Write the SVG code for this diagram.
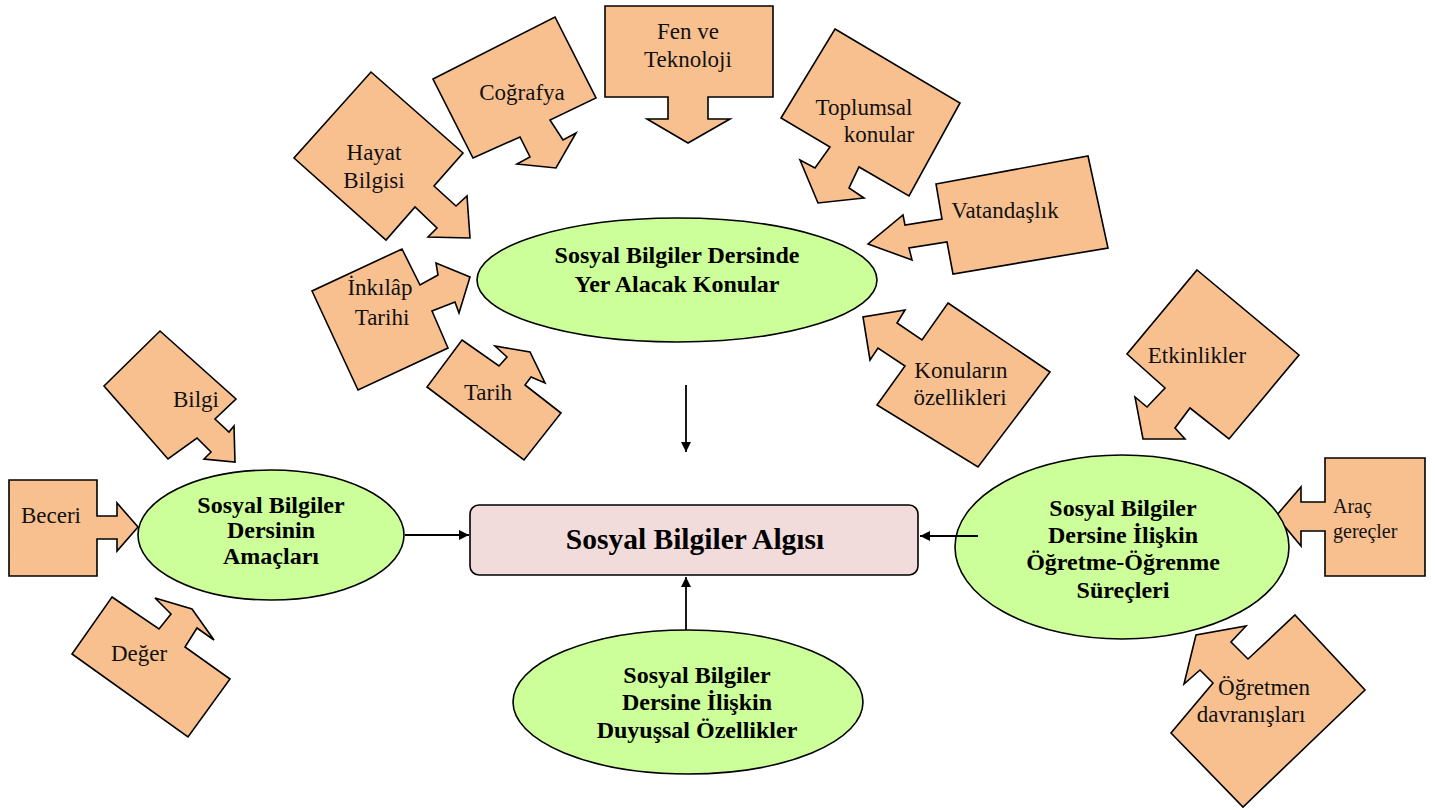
<svg xmlns="http://www.w3.org/2000/svg" width="1435" height="810" viewBox="0 0 1435 810">
<style>
.co{fill:#f9c08f;stroke:#000;stroke-width:1.6;stroke-linejoin:miter}
.el{fill:#ccff99;stroke:#000;stroke-width:1.6}
.t{font-family:"Liberation Serif","Times New Roman",serif;font-size:23px;fill:#111;text-anchor:middle}
.b{font-family:"Liberation Serif","Times New Roman",serif;font-size:24px;font-weight:bold;fill:#000;text-anchor:middle}
.cn{stroke:#000;stroke-width:1.8;fill:none}
</style>
<defs>
<marker id="ah" viewBox="0 0 10 10" refX="10" refY="5" markerWidth="11" markerHeight="10" markerUnits="userSpaceOnUse" orient="auto"><path d="M0,0 L10,5 L0,10 Z" fill="#000"/></marker>
</defs>
<rect width="1435" height="810" fill="#fff"/>

<g id="fen">
<polygon class="co" points="605,6 773,6 773,97 708,97 708,119 730,119 688,143 647,119 668,119 668,97 605,97"/>
<text class="t" x="688" y="39">Fen ve</text>
<text class="t" x="688" y="67">Teknoloji</text>
</g>
<g id="hayat">
<polygon class="co" points="371,72 463,153 434,186 456,206 467,196 470,238 428,237 437,228 415,207 386,240 294,158"/>
<text class="t" x="374" y="160">Hayat</text>
<text class="t" x="374" y="188">Bilgisi</text>
</g>
<g id="cografya">
<polygon class="co" points="433,79 555,17 596,98 550,120 563,140 576,133 556,168 517,164 530,157 520,137 473,158"/>
<text class="t" x="522" y="100">Coğrafya</text>
</g>
<g id="toplumsal">
<polygon class="co" points="835,29 960,103 909,196 859,167 849,188 864,198 818,203 800,160 815,168 830,147 781,118"/>
<text class="t" x="864" y="115">Toplumsal</text>
<text class="t" x="879" y="142">konular</text>
</g>
<g id="vatandaslik">
<polygon class="co" points="936,184 1088,156 1108,248 953,274 947,242 909,248 912,260 868,244 903,215 905,225 942,219"/>
<text class="t" x="1005" y="218">Vatandaşlık</text>
</g>
<g id="konularin">
<polygon class="co" points="948,303 1050,372 978,467 877,405 905,366 878,348 870,360 863,317 905,310 897,323 922,340"/>
<text class="t" x="961" y="378">Konuların</text>
<text class="t" x="960" y="405">özellikleri</text>
</g>
<g id="inkilap">
<polygon class="co" points="402,249 420,285 438,275 436,263 470,277 459,313 455,302 432,311 448,348 358,390 312,291"/>
<text class="t" x="380" y="295">İnkılâp</text>
<text class="t" x="382" y="325">Tarihi</text>
</g>
<g id="tarih">
<polygon class="co" points="462,340 499,366 507,357 495,346 530,352 545,383 531,377 525,385 561,413 524,460 427,387"/>
<text class="t" x="488" y="400">Tarih</text>
</g>
<g id="bilgi">
<polygon class="co" points="160,331 236,399 215,419 229,432 234,426 235,462 204,459 211,452 197,438 168,459 104,386"/>
<text class="t" x="196" y="407">Bilgi</text>
</g>
<g id="beceri">
<polygon class="co" points="9,480 97,480 97,516 117,516 117,503 138,527 117,551 117,539 97,539 97,576 9,576"/>
<text class="t" x="51" y="523">Beceri</text>
</g>
<g id="deger">
<polygon class="co" points="112,597 159,629 171,614 155,598 192,609 214,640 197,628 185,647 230,679 188,737 72,654"/>
<text class="t" x="139" y="661">Değer</text>
</g>
<g id="etkinlikler">
<polygon class="co" points="1197,270 1299,355 1229,439 1190,408 1175,428 1185,439 1143,439 1135,397 1147,407 1165,388 1127,354"/>
<text class="t" x="1197" y="363">Etkinlikler</text>
</g>
<g id="arac">
<polygon class="co" points="1325,458 1425,458 1425,576 1325,576 1325,531 1301,531 1301,546 1276,516 1301,487 1301,502 1325,502"/>
<text class="t" x="1333" y="513" style="text-anchor:start;font-size:20px">Araç</text>
<text class="t" x="1333" y="538" style="text-anchor:start;font-size:20px">gereçler</text>
</g>
<g id="ogretmen">
<polygon class="co" points="1295,615 1365,690 1243,807 1171,733 1213,683 1200,670 1184,684 1196,635 1246,626 1231,642 1248,659"/>
<text class="t" x="1264" y="695">Öğretmen</text>
<text class="t" x="1251" y="722">davranışları</text>
</g>

<g id="konular-ellipse">
<ellipse class="el" cx="677" cy="280" rx="200" ry="62"/>
<text class="b" x="677" y="263">Sosyal Bilgiler Dersinde</text>
<text class="b" x="677" y="292">Yer Alacak Konular</text>
</g>
<g id="amaclar-ellipse">
<ellipse class="el" cx="271" cy="535" rx="133" ry="65"/>
<text class="b" x="271" y="513">Sosyal Bilgiler</text>
<text class="b" x="271" y="538">Dersinin</text>
<text class="b" x="271" y="564">Amaçları</text>
</g>
<g id="surecler-ellipse">
<ellipse class="el" cx="1122" cy="547" rx="167" ry="92"/>
<text class="b" x="1123" y="516">Sosyal Bilgiler</text>
<text class="b" x="1123" y="543">Dersine İlişkin</text>
<text class="b" x="1123" y="570">Öğretme-Öğrenme</text>
<text class="b" x="1123" y="598">Süreçleri</text>
</g>
<g id="duyussal-ellipse">
<ellipse class="el" cx="688" cy="702" rx="175" ry="72"/>
<text class="b" x="697" y="683">Sosyal Bilgiler</text>
<text class="b" x="697" y="710">Dersine İlişkin</text>
<text class="b" x="697" y="738">Duyuşsal Özellikler</text>
</g>
<g id="algi">
<rect x="470" y="505" width="448" height="70" rx="9" fill="#f2dcdb" stroke="#000" stroke-width="1.6"/>
<text class="b" x="695" y="549" style="font-size:29.5px">Sosyal Bilgiler Algısı</text>
</g>

<g id="connectors">
<line class="cn" x1="686" y1="385" x2="686" y2="452" marker-end="url(#ah)"/>
<line class="cn" x1="405" y1="535" x2="469" y2="535" marker-end="url(#ah)"/>
<line class="cn" x1="978" y1="536" x2="920" y2="536" marker-end="url(#ah)"/>
<line class="cn" x1="686" y1="630" x2="686" y2="577" marker-end="url(#ah)"/>
</g>
</svg>
